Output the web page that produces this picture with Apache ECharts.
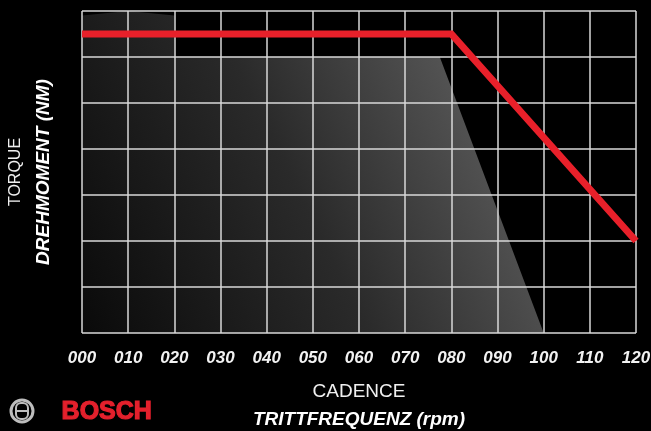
<!DOCTYPE html>
<html>
<head>
<meta charset="utf-8">
<script src="https://cdn.jsdelivr.net/npm/echarts@6/dist/echarts.min.js"></script>
<style>
html,body{margin:0;padding:0;background:#000;}
#chart{width:651px;height:431px;}
</style>
</head>
<body>
<div id="chart"></div>
<script>
// Data
var xTickLabels = ['000','010','020','030','040','050','060','070','080','090','100','110','120'];
var torqueCurve = [[0, 6.5], [80, 6.5], [120, 2.0]];
var bgShape = [[0, 6.9], [10, 7.0], [20, 6.9], [20, 6.0], [77.5, 6.0], [100, 0]];
var xName = 'CADENCE';
var xName2 = 'TRITTFREQUENZ (rpm)';
var yName = 'TORQUE';
var yName2 = 'DREHMOMENT (NM)';
var brand = 'BOSCH';

var FONT = '"Liberation Sans", Arial, sans-serif';

var chart = echarts.init(document.getElementById('chart'));
chart.setOption({
  backgroundColor: '#000',
  animation: false,
  grid: {left: 82, right: 15, top: 11, bottom: 98, containLabel: false, outerBoundsMode: 'none'},
  xAxis: {
    type: 'value', min: 0, max: 120, interval: 10,
    axisLine: {show: false}, axisTick: {show: false},
    splitLine: {show: true, lineStyle: {color: '#d9d9d9', width: 1.5}},
    axisLabel: {
      color: '#f2f2f2', fontFamily: FONT, fontStyle: 'italic', fontWeight: 'bold', fontSize: 17, margin: 17,
      formatter: function (v) { return xTickLabels[Math.round(v / 10)]; }
    },
    name: '{a|' + xName + '}\n{b|' + xName2 + '}',
    nameLocation: 'middle', nameGap: 45,
    nameTextStyle: {
      rich: {
        a: {color: '#f0f0f0', fontFamily: FONT, fontSize: 19, lineHeight: 28},
        b: {color: '#ffffff', fontFamily: FONT, fontSize: 19, fontStyle: 'italic', fontWeight: 'bold', lineHeight: 28}
      }
    }
  },
  yAxis: {
    type: 'value', min: 0, max: 7, interval: 1,
    axisLine: {show: false}, axisTick: {show: false}, axisLabel: {show: false},
    splitLine: {show: true, lineStyle: {color: '#d9d9d9', width: 1.5}},
    name: '{a|' + yName + '}\n{b|' + yName2 + '}',
    nameLocation: 'middle', nameGap: 24, nameRotate: 90,
    nameTextStyle: {
      rich: {
        a: {color: '#f0f0f0', fontFamily: FONT, fontSize: 16, lineHeight: 28},
        b: {color: '#ffffff', fontFamily: FONT, fontSize: 19, fontStyle: 'italic', fontWeight: 'bold', lineHeight: 28}
      }
    }
  },
  series: [
    {
      type: 'line', data: bgShape, z: -1, symbol: 'none', silent: true,
      lineStyle: {width: 0, opacity: 0},
      areaStyle: {
        opacity: 1,
        color: new echarts.graphic.LinearGradient(0, 1, 1, 0.3, [
          {offset: 0, color: '#0a0a0a'},
          {offset: 0.5, color: '#2a2a2a'},
          {offset: 1, color: '#626262'}
        ])
      }
    },
    {
      type: 'line', data: torqueCurve, symbol: 'none', z: 5,
      lineStyle: {color: '#e8202a', width: 7, cap: 'butt', join: 'miter'}
    }
  ],
  graphic: [
    {type: 'circle', shape: {cx: 22, cy: 411, r: 11}, style: {fill: 'none', stroke: '#bdbdbd', lineWidth: 3}},
    {type: 'rect', shape: {x: 16, y: 403, width: 12, height: 16, r: 5}, style: {fill: 'none', stroke: '#bdbdbd', lineWidth: 2}},
    {type: 'line', shape: {x1: 16, y1: 411, x2: 28, y2: 411}, style: {stroke: '#bdbdbd', lineWidth: 2}},
    {type: 'text', left: 61, top: 399, style: {text: brand, fill: '#e3202c', stroke: '#e3202c', lineWidth: 1.2, font: 'bold 25px "Liberation Sans", Arial, sans-serif'}}
  ]
});
</script>
</body>
</html>
